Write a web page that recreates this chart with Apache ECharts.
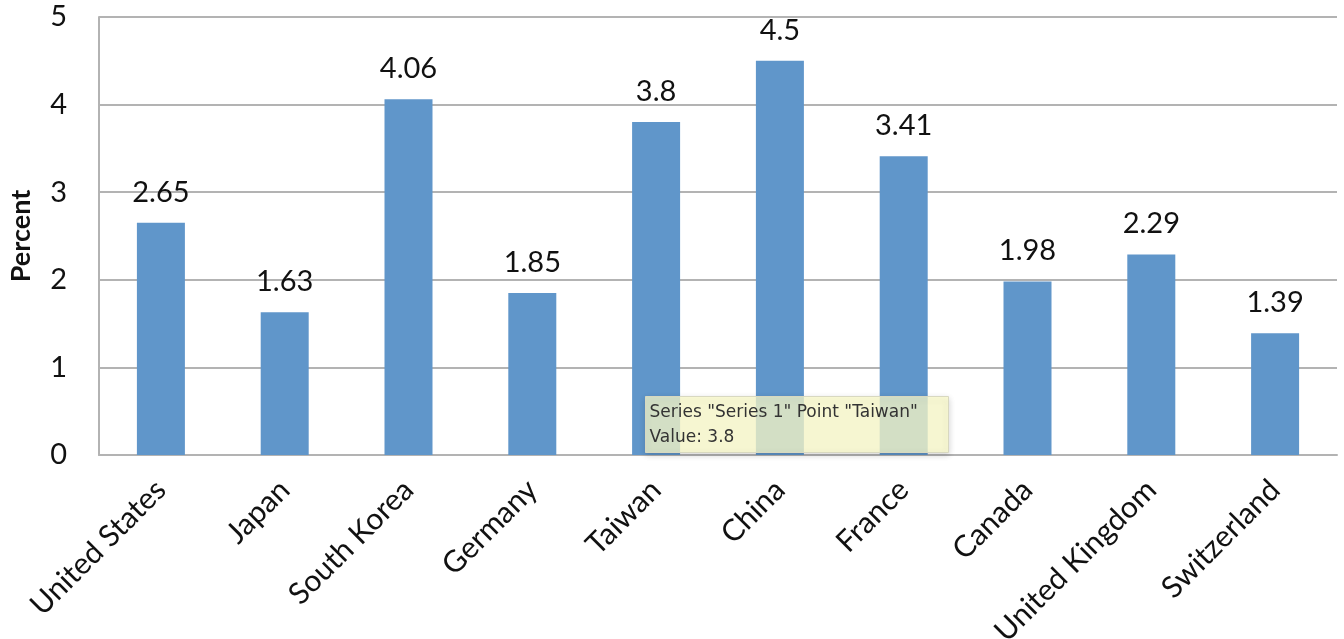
<!DOCTYPE html>
<html>
<head>
<meta charset="utf-8">
<style>
  html, body { margin: 0; padding: 0; background: #fff; }
  #chart { width: 1344px; height: 639px; }
</style>
</head>
<body>
<div id="chart"></div>
<script src="https://cdn.jsdelivr.net/npm/echarts@6/dist/echarts.min.js"></script>
<script>
// data
var countries = ['United States', 'Japan', 'South Korea', 'Germany', 'Taiwan',
                 'China', 'France', 'Canada', 'United Kingdom', 'Switzerland'];
var percent = [2.65, 1.63, 4.06, 1.85, 3.8, 4.5, 3.41, 1.98, 2.29, 1.39];
var tipLines = ['Series "Series 1" Point "Taiwan"', 'Value: 3.8'];

var font = 'Lato, "Open Sans", sans-serif';
var chart = echarts.init(document.getElementById('chart'));

var option = {
    backgroundColor: '#fff',
    animation: false,
    grid: { left: 99, right: 7, top: 17, bottom: 184, containLabel: false, outerBoundsMode: 'none' },
    xAxis: {
        type: 'category',
        data: countries,
        axisLine: { lineStyle: { color: '#b3b3b3', width: 2 } },
        axisTick: { show: false },
        axisLabel: {
            rotate: 45,
            interval: 0,
            margin: 30,
            color: '#111',
            fontSize: 30,
            fontFamily: font
        }
    },
    yAxis: {
        type: 'value',
        min: 0,
        max: 5,
        interval: 1,
        name: 'Percent',
        nameLocation: 'middle',
        nameGap: 64,
        nameTextStyle: { color: '#111', fontSize: 27, fontWeight: 'bold', fontFamily: font },
        axisLine: { show: true, lineStyle: { color: '#b3b3b3', width: 2 } },
        axisTick: { show: false },
        axisLabel: { margin: 32, color: '#111', fontSize: 29, fontFamily: font },
        splitLine: { lineStyle: { color: '#b3b3b3', width: 2 } }
    },
    series: [{
        name: 'Series 1',
        type: 'bar',
        data: percent,
        barWidth: 48,
        itemStyle: { color: '#6096ca' },
        label: {
            show: true,
            position: 'top',
            distance: 16,
            color: '#111',
            fontSize: 29,
            fontFamily: font
        }
    }],
    graphic: [{
        type: 'group',
        left: 645,
        top: 396,
        z: 100,
        children: [{
            type: 'rect',
            z: 100,
            shape: { x: 0, y: 0, width: 303, height: 56 },
            style: {
                fill: 'rgba(255,255,205,0.75)',
                stroke: '#d8d8c0',
                lineWidth: 1,
                shadowBlur: 6,
                shadowColor: 'rgba(0,0,0,0.2)',
                shadowOffsetY: 2
            }
        }, {
            type: 'text',
            z: 101,
            x: 4,
            y: 4,
            style: {
                text: tipLines.join('\n'),
                fill: '#333',
                font: '17px "DejaVu Sans", sans-serif',
                lineHeight: 25
            }
        }]
    }]
};

chart.setOption(option);
</script>
</body>
</html>
